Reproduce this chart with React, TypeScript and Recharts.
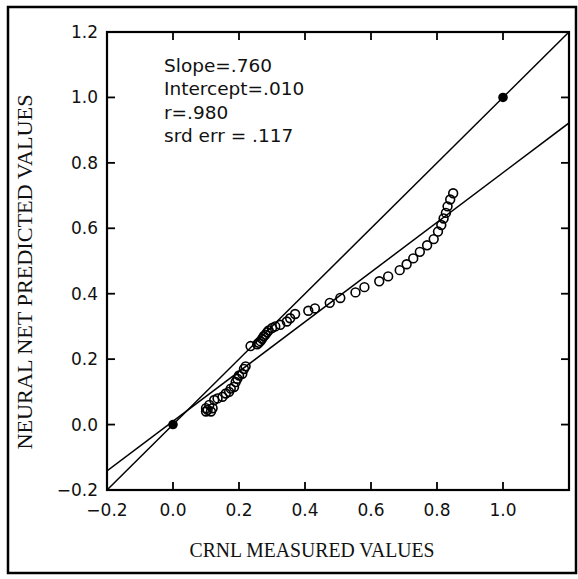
import { ScatterChart, Scatter, XAxis, YAxis, ReferenceLine } from "recharts";

// CRNL measured vs neural net predicted
const measured = [
  0.1, 0.1, 0.105, 0.11, 0.115, 0.12, 0.125, 0.135, 0.15, 0.16, 0.17, 0.175, 0.185, 0.19, 0.195, 0.2, 0.21, 0.215,
  0.22, 0.235, 0.255, 0.26, 0.265, 0.27, 0.275, 0.28, 0.285, 0.29, 0.3, 0.31, 0.325, 0.345, 0.355, 0.37, 0.41, 0.43,
  0.475, 0.507, 0.553, 0.58, 0.625, 0.652, 0.687, 0.708, 0.728, 0.748, 0.77, 0.79, 0.803, 0.813, 0.82, 0.827, 0.832,
  0.84, 0.849,
];
const predicted = [
  0.04, 0.05, 0.045, 0.06, 0.04, 0.05, 0.075, 0.08, 0.085, 0.095, 0.1, 0.11, 0.115, 0.13, 0.14, 0.15, 0.155, 0.17,
  0.178, 0.24, 0.245, 0.25, 0.255, 0.262, 0.27, 0.275, 0.282, 0.288, 0.295, 0.3, 0.305, 0.315, 0.325, 0.338, 0.348,
  0.355, 0.372, 0.387, 0.404, 0.42, 0.438, 0.453, 0.472, 0.49, 0.508, 0.528, 0.548, 0.567, 0.59, 0.61, 0.63, 0.647,
  0.667, 0.688, 0.707,
];
const anchorX = [0, 1];
const anchorY = [0, 1];
const slope = 0.76;
const intercept = 0.01;
const xTicks = [-0.2, 0, 0.2, 0.4, 0.6, 0.8, 1.0, 1.2];
const yTicks = [-0.2, 0, 0.2, 0.4, 0.6, 0.8, 1.0, 1.2];
const stats = ["Slope=.760", "Intercept=.010", "r=.980", "srd err = .117"];

const points = measured.map((x, i) => ({ x, y: predicted[i] }));
const anchors = anchorX.map((x, i) => ({ x, y: anchorY[i] }));
const lo = -0.2;
const hi = 1.2;

const W = 578;
const H = 579;
const Y_AXIS_W = 60;
const X_AXIS_H = 30;
const margin = { top: 32, right: 9, bottom: 59, left: 47 };
// plot box, used only for the frame and its inward ticks
const box = {
  left: margin.left + Y_AXIS_W,
  right: W - margin.right,
  top: margin.top,
  bottom: H - margin.bottom - X_AXIS_H,
};
const px = (v: number) => box.left + ((v - lo) / (hi - lo)) * (box.right - box.left);
const py = (v: number) => box.bottom - ((v - lo) / (hi - lo)) * (box.bottom - box.top);
const inner = (v: number) => v > -0.19 && v < 1.19;

const fmt = (v: number) => (v < 0 ? "\u2212" : "") + Math.abs(v).toFixed(1);
const tickFont = { fontFamily: "DejaVu Sans", fontSize: 17, fill: "#111" };

const BottomTick = (props: any) => {
  const { x, y, payload } = props;
  const v = payload.value;
  if (v > 1.19) return <g />;
  return (
    <text x={x} y={y + 26} textAnchor="middle" {...tickFont}>
      {fmt(v)}
    </text>
  );
};

const LeftTick = (props: any) => {
  const { x, y, payload } = props;
  return (
    <text x={x - 9} y={y + 6} textAnchor="end" {...tickFont}>
      {fmt(payload.value)}
    </text>
  );
};

const OpenCircle = (props: any) => (
  <circle cx={props.cx} cy={props.cy} r={4.4} fill="none" stroke="#000" strokeWidth={1.6} />
);
const FilledDot = (props: any) => <circle cx={props.cx} cy={props.cy} r={4.8} fill="#000" />;

export default function App() {
  return (
    <div style={{ position: "absolute", left: 0, top: 0, width: W, height: H, background: "#fff" }}>
      <ScatterChart width={W} height={H} margin={margin}>
        <XAxis
          dataKey="x"
          type="number"
          domain={[lo, hi]}
          ticks={xTicks}
          interval={0}
          height={X_AXIS_H}
          tickSize={0}
          tickMargin={0}
          axisLine={{ stroke: "#000", strokeWidth: 2 }}
          tick={<BottomTick />}
        />
        <YAxis
          dataKey="y"
          type="number"
          domain={[lo, hi]}
          ticks={yTicks}
          interval={0}
          width={Y_AXIS_W}
          tickSize={0}
          tickMargin={0}
          axisLine={{ stroke: "#000", strokeWidth: 2 }}
          tick={<LeftTick />}
        />
        <ReferenceLine
          segment={[
            { x: lo, y: lo },
            { x: hi, y: hi },
          ]}
          stroke="#000"
          strokeWidth={1.5}
          ifOverflow="hidden"
        />
        <ReferenceLine
          segment={[
            { x: lo, y: slope * lo + intercept },
            { x: hi, y: slope * hi + intercept },
          ]}
          stroke="#000"
          strokeWidth={1.5}
          ifOverflow="hidden"
        />
        <Scatter data={points} shape={<OpenCircle />} isAnimationActive={false} />
        <Scatter data={anchors} shape={<FilledDot />} isAnimationActive={false} />
      </ScatterChart>
      <svg width={W} height={H} style={{ position: "absolute", left: 0, top: 0, pointerEvents: "none" }}>
        <rect x={8} y={7} width={568} height={566} fill="none" stroke="#000" strokeWidth={2.5} />
        <rect
          x={box.left}
          y={box.top}
          width={box.right - box.left}
          height={box.bottom - box.top}
          fill="none"
          stroke="#000"
          strokeWidth={2.2}
        />
        {xTicks.filter(inner).map((v) => (
          <g key={"x" + v}>
            <line x1={px(v)} y1={box.bottom} x2={px(v)} y2={box.bottom - 8} stroke="#000" strokeWidth={1.8} />
            <line x1={px(v)} y1={box.top} x2={px(v)} y2={box.top + 8} stroke="#000" strokeWidth={1.8} />
          </g>
        ))}
        {yTicks.filter(inner).map((v) => (
          <g key={"y" + v}>
            <line x1={box.left} y1={py(v)} x2={box.left + 8} y2={py(v)} stroke="#000" strokeWidth={1.8} />
            <line x1={box.right} y1={py(v)} x2={box.right - 8} y2={py(v)} stroke="#000" strokeWidth={1.8} />
          </g>
        ))}
        {stats.map((s, i) => (
          <text key={s} x={164} y={72 + i * 23.3} fontFamily="DejaVu Sans" fontSize={18.5} fill="#111">
            {s}
          </text>
        ))}
        <text
          x={312}
          y={557}
          textAnchor="middle"
          fontFamily="Liberation Serif"
          fontSize={20}
          textLength={245}
          lengthAdjust="spacingAndGlyphs"
          fill="#111"
        >
          CRNL MEASURED VALUES
        </text>
        <text
          transform="translate(32,272) rotate(-90)"
          textAnchor="middle"
          fontFamily="Liberation Serif"
          fontSize={20}
          textLength={355}
          lengthAdjust="spacingAndGlyphs"
          fill="#111"
        >
          NEURAL NET PREDICTED VALUES
        </text>
      </svg>
    </div>
  );
}
